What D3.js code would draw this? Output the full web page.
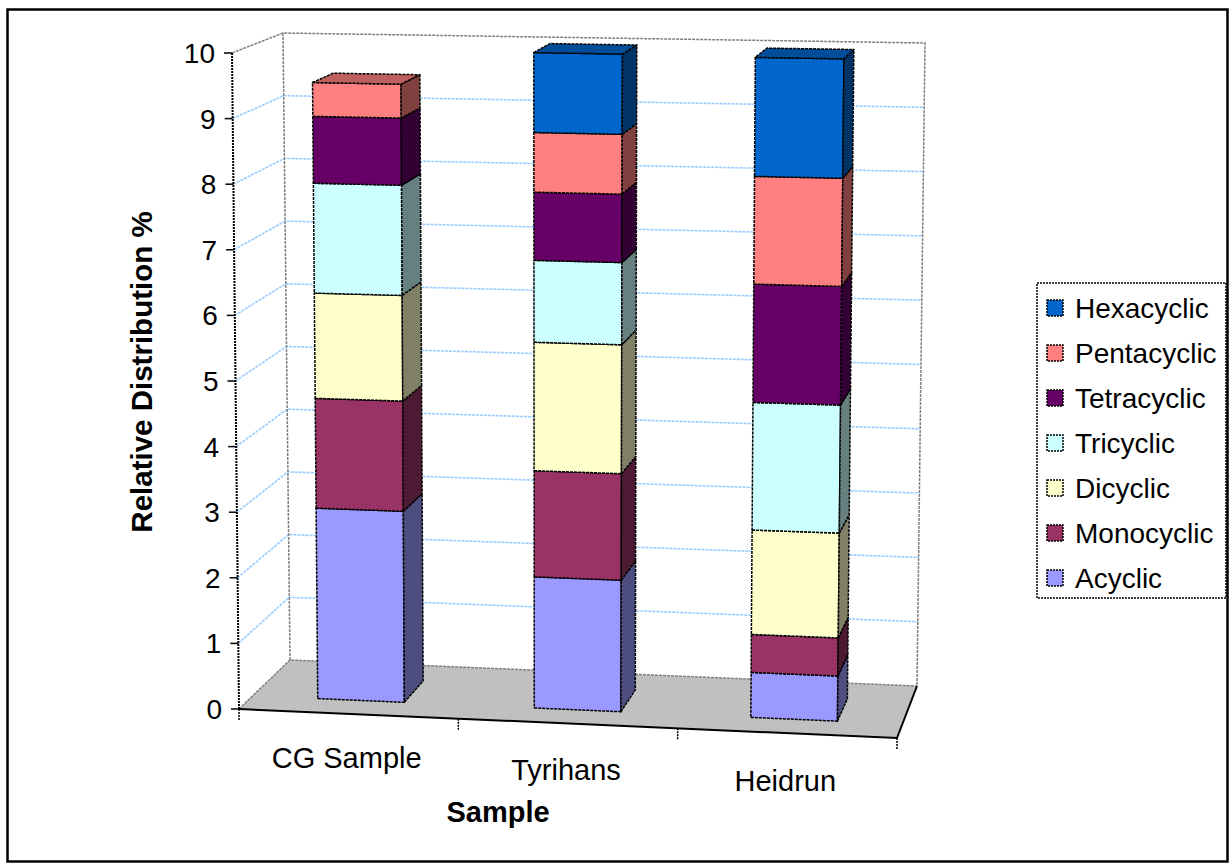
<!DOCTYPE html>
<html>
<head>
<meta charset="utf-8">
<script src="https://cdn.jsdelivr.net/npm/d3@7"></script>
<style>
  html, body { margin: 0; padding: 0; background: #fff; }
  svg text { font-family: "Liberation Sans", Arial, sans-serif; fill: #000; }
</style>
</head>
<body>
<svg id="chart" width="1230" height="865"></svg>
<script>
// Samples along the category axis
const categories = ["CG Sample", "Tyrihans", "Heidrun"];

// Series, stacked from the floor upward
const seriesNames = ["Acyclic", "Monocyclic", "Dicyclic", "Tricyclic", "Tetracyclic", "Pentacyclic", "Hexacyclic"];
const acyclic     = [2.93, 2.00, 0.68];
const monocyclic  = [1.69, 1.62, 0.575];
const dicyclic    = [1.62, 1.96, 1.58];
const tricyclic   = [1.69, 1.25, 1.93];
const tetracyclic = [1.03, 1.04, 1.79];
const pentacyclic = [0.52, 0.91, 1.63];
const hexacyclic  = [0.00, 1.22, 1.80];

// Value axis ticks
const valueTicks = [0, 1, 2, 3, 4, 5, 6, 7, 8, 9, 10];

const seriesValues = [acyclic, monocyclic, dicyclic, tricyclic, tetracyclic, pentacyclic, hexacyclic];
const faceColors = ["#9999ff", "#993366", "#ffffcc", "#ccffff", "#660066", "#ff8080", "#0066cc"];

const svg = d3.select("#chart");

// Outer chart border
svg.append("rect")
  .attr("x", 7.5).attr("y", 9.5).attr("width", 1220).attr("height", 852)
  .attr("fill", "#fff").attr("stroke", "#000").attr("stroke-width", 2.5);

// Corners of the plot box in screen space: [x, y]
// key = u (0 left / 1 right), w (0 front / 1 back), t (0 floor / 1 top)
const corner = {
  "000": [239, 709], "100": [897, 738], "010": [290, 660], "110": [917, 686],
  "001": [232, 53],  "101": [905, 65],  "011": [283, 33],  "111": [925, 43]
};
const lerp = (a, b, t) => a + (b - a) * t;
function proj(u, w, t) {
  const out = [0, 0];
  for (let k = 0; k < 2; k++) {
    const c00 = lerp(corner["000"][k], corner["100"][k], u);
    const c10 = lerp(corner["010"][k], corner["110"][k], u);
    const c01 = lerp(corner["001"][k], corner["101"][k], u);
    const c11 = lerp(corner["011"][k], corner["111"][k], u);
    const b = lerp(c00, c10, w);
    const top = lerp(c01, c11, w);
    out[k] = lerp(b, top, t);
  }
  return out;
}

const yScale = d3.scaleLinear().domain([0, 10]).range([0, 1]);
const xScale = d3.scaleBand().domain(categories).range([0, 1]).paddingInner(0.6).paddingOuter(0.3);
const wFront = 0.27, wBack = 0.70;

const P = (u, w, v) => proj(u, w, yScale(v));
const poly = pts => "M" + pts.map(p => p[0].toFixed(2) + "," + p[1].toFixed(2)).join("L") + "Z";
const line = pts => "M" + pts.map(p => p[0].toFixed(2) + "," + p[1].toFixed(2)).join("L");

const g = svg.append("g");

// Walls (white)
g.append("path").attr("d", poly([P(0,0,0), P(0,1,0), P(0,1,10), P(0,0,10)])).attr("fill", "#fff");
g.append("path").attr("d", poly([P(0,1,0), P(1,1,0), P(1,1,10), P(0,1,10)])).attr("fill", "#fff");

// Gridlines across the left wall and back wall
valueTicks.filter(v => v > 0 && v < 10).forEach(v => {
  g.append("path").attr("d", line([P(0,0,v), P(0,1,v), P(1,1,v)]))
    .attr("fill", "none").attr("stroke", "#99ccff").attr("stroke-width", 1.6)
    .attr("stroke-dasharray", "3,1");
});

// Wall edges
g.append("path").attr("d", line([P(0,0,10), P(0,1,10), P(1,1,10), P(1,1,0)]))
  .attr("fill", "none").attr("stroke", "#808080").attr("stroke-width", 1.5).attr("stroke-dasharray", "3,1");
g.append("path").attr("d", line([P(0,1,10), P(0,1,0)]))
  .attr("fill", "none").attr("stroke", "#808080").attr("stroke-width", 1.5).attr("stroke-dasharray", "3,1");

// Floor
g.append("path").attr("d", poly([P(0,0,0), P(1,0,0), P(1,1,0), P(0,1,0)]))
  .attr("fill", "#c0c0c0");
g.append("path").attr("d", line([P(0,0,0), P(0,1,0), P(1,1,0)]))
  .attr("fill", "none").attr("stroke", "#808080").attr("stroke-width", 1.5).attr("stroke-dasharray", "3,1");
g.append("path").attr("d", line([P(1,1,0), P(1,0,0), P(0,0,0)]))
  .attr("fill", "none").attr("stroke", "#000").attr("stroke-width", 2);

// Category axis ticks along the front floor edge
[0, 1, 2, 3].forEach(i => {
  const p = P(i / 3, 0, 0);
  g.append("line").attr("x1", p[0]).attr("y1", p[1]).attr("x2", p[0]).attr("y2", p[1] + 11)
    .attr("stroke", "#000").attr("stroke-width", 1.5).attr("stroke-dasharray", "2,1");
});

// Value axis line and ticks
g.append("path").attr("d", line([P(0,0,0), P(0,0,10)]))
  .attr("fill", "none").attr("stroke", "#000").attr("stroke-width", 2).attr("stroke-dasharray", "2,1");
valueTicks.forEach(v => {
  const p = P(0, 0, v);
  g.append("line").attr("x1", p[0] - 8).attr("y1", p[1]).attr("x2", p[0]).attr("y2", p[1])
    .attr("stroke", "#000").attr("stroke-width", 1.5);
  g.append("text").attr("x", p[0] - 17).attr("y", p[1] + 10)
    .attr("text-anchor", "end").attr("font-size", 28).text(v);
});

// Stacked bars
const table = categories.map((c, i) => {
  const row = { category: c };
  seriesNames.forEach((s, j) => row[s] = seriesValues[j][i]);
  return row;
});
const stacked = d3.stack().keys(seriesNames)(table);
const shade = (col, k) => { const c = d3.rgb(col); return d3.rgb(c.r * k, c.g * k, c.b * k).formatHex(); };
const outline = sel => sel.attr("stroke", "#000").attr("stroke-width", 1.5)
  .attr("stroke-dasharray", "3,1").attr("stroke-linejoin", "round");

const bars = g.append("g");
categories.forEach((c, i) => {
  const ua = xScale(c), ub = ua + xScale.bandwidth();
  let topIdx = -1;
  stacked.forEach((layer, j) => { if (layer[i][1] - layer[i][0] > 0) topIdx = j; });
  stacked.forEach((layer, j) => {
    const v0 = layer[i][0], v1 = layer[i][1];
    if (v1 - v0 <= 0) return;
    const col = faceColors[j];
    bars.append("path")
      .attr("d", poly([P(ua,wFront,v0), P(ub,wFront,v0), P(ub,wFront,v1), P(ua,wFront,v1)]))
      .attr("fill", col).call(outline);
    bars.append("path")
      .attr("d", poly([P(ub,wFront,v0), P(ub,wBack,v0), P(ub,wBack,v1), P(ub,wFront,v1)]))
      .attr("fill", shade(col, 0.5)).call(outline);
    if (j === topIdx) {
      bars.append("path")
        .attr("d", poly([P(ua,wFront,v1), P(ub,wFront,v1), P(ub,wBack,v1), P(ua,wBack,v1)]))
        .attr("fill", shade(col, 0.75)).call(outline);
    }
  });
});

// Category labels below the front floor edge
categories.forEach(c => {
  const u = xScale(c) + xScale.bandwidth() / 2;
  const p = P(u, 0, 0);
  g.append("text").attr("x", p[0] - 2).attr("y", p[1] + 53 + 6 * u)
    .attr("text-anchor", "middle").attr("font-size", 29).text(c);
});

// Axis titles
svg.append("text").attr("x", 498).attr("y", 822).attr("text-anchor", "middle")
  .attr("font-size", 29).attr("font-weight", "bold").text("Sample");
svg.append("text").attr("transform", "translate(152,372) rotate(-90)").attr("text-anchor", "middle")
  .attr("font-size", 29.5).attr("font-weight", "bold").text("Relative Distribution %");

// Legend
const legend = svg.append("g");
legend.append("rect").attr("x", 1037).attr("y", 283).attr("width", 189).attr("height", 315)
  .attr("fill", "#fff").attr("stroke", "#000").attr("stroke-width", 1.5).attr("stroke-dasharray", "2,1");
seriesNames.slice().reverse().forEach((s, k) => {
  const j = seriesNames.indexOf(s);
  const cy = 308 + k * 45;
  legend.append("rect").attr("x", 1047).attr("y", cy - 8).attr("width", 16).attr("height", 16)
    .attr("fill", faceColors[j]).attr("stroke", "#000").attr("stroke-width", 1.5).attr("stroke-dasharray", "2,1");
  legend.append("text").attr("x", 1075).attr("y", cy + 10).attr("font-size", 28).text(s);
});
</script>
</body>
</html>
